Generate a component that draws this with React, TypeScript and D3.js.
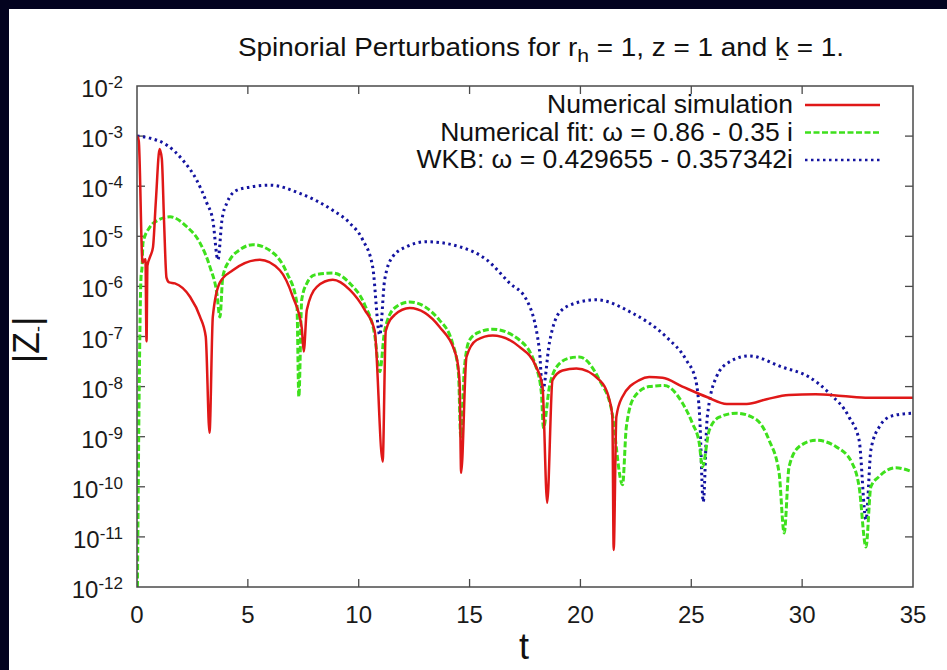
import { useRef, useEffect } from "react";
import * as d3 from "d3";

// Numerical simulation (red, solid)
const simT = [0, 0.08, 0.25, 0.38, 0.43, 0.47, 0.6, 0.72, 0.85, 1.02, 1.12, 1.22, 1.33, 1.45, 1.71, 2.39, 2.84, 3.1, 3.27, 3.42, 3.74, 4.32, 5.54, 6.44, 7.03, 7.43, 7.52, 7.66, 8.11, 8.83, 9.6, 10.27, 10.72, 11.08, 11.22, 11.62, 12.3, 13.65, 14.41, 14.55, 14.62, 14.86, 15.32, 16.04, 17.25, 18.0, 18.29, 18.5, 18.74, 19.19, 19.82, 20.86, 21.31, 21.44, 21.5, 21.62, 21.89, 22.66, 23.1, 23.7, 24.6, 25.7, 26.6, 27.5, 28.4, 29.4, 30.6, 31.8, 33.0, 35];
const simV = [1.0e-3, 8.0e-4, 3.0e-6, 3.5e-6, 8.0e-8, 2.6e-6, 4.0e-6, 6.0e-6, 5.0e-5, 5.5e-4, 3.5e-4, 2.0e-5, 1.5e-6, 1.2e-6, 1.15e-6, 6.2e-7, 2.5e-7, 1.0e-7, 1.2e-9, 2.5e-7, 1.2e-6, 2.1e-6, 3.4e-6, 2.1e-6, 6.2e-7, 1.5e-7, 5.0e-8, 3.4e-7, 9.8e-7, 1.35e-6, 8.5e-7, 3.4e-7, 1.3e-7, 3.2e-10, 1.3e-7, 2.7e-7, 3.7e-7, 1.55e-7, 3.9e-8, 1.2e-8, 1.9e-10, 3.9e-8, 8.5e-8, 1.05e-7, 6.2e-8, 2.5e-8, 1.0e-8, 4.8e-11, 1.35e-8, 2.1e-8, 2.3e-8, 1.35e-8, 5.4e-9, 2.5e-9, 5.5e-12, 2.5e-9, 6.2e-9, 1.35e-8, 1.55e-8, 1.5e-8, 1.0e-8, 6.2e-9, 4.5e-9, 4.5e-9, 5.6e-9, 6.8e-9, 7.0e-9, 6.5e-9, 6.0e-9, 6.0e-9];

// Numerical fit (green, dashed)
const fitT = [0.02, 0.1, 0.18, 0.23, 0.27, 0.59, 0.95, 1.49, 2.25, 2.84, 3.29, 3.6, 3.74, 3.87, 4.19, 4.64, 5.23, 6.13, 6.76, 7.21, 7.3, 7.43, 7.66, 8.02, 8.83, 9.6, 10.27, 10.72, 10.95, 11.17, 11.62, 12.3, 13.65, 14.23, 14.5, 14.6, 14.77, 15.0, 15.45, 16.04, 17.25, 18.0, 18.24, 18.33, 18.6, 18.92, 19.5, 19.95, 20.86, 21.4, 21.9, 22.07, 22.43, 23.1, 23.78, 24.6, 25.05, 25.36, 25.5, 25.81, 26.26, 27.03, 27.93, 28.51, 28.96, 29.19, 29.41, 29.86, 30.63, 31.53, 32.25, 32.57, 32.88, 33.1, 33.47, 34.23, 34.95];
const fitV = [1.0e-12, 1.0e-8, 1.5e-6, 2.5e-6, 7.4e-6, 1.55e-5, 2.1e-5, 2.45e-5, 1.55e-5, 7.4e-6, 2.45e-6, 7.4e-7, 2.45e-7, 1.55e-6, 3.4e-6, 5.4e-6, 6.8e-6, 4.7e-6, 1.85e-6, 4.7e-7, 6.3e-9, 5.4e-7, 1.15e-6, 1.7e-6, 1.85e-6, 1.15e-6, 4.3e-7, 1.07e-7, 2.0e-8, 1.3e-7, 3.7e-7, 4.9e-7, 2.1e-7, 7.4e-8, 1.85e-8, 1.0e-9, 2.45e-8, 8.5e-8, 1.23e-7, 1.4e-7, 8.5e-8, 2.45e-8, 7.4e-9, 1.5e-9, 9.8e-9, 2.45e-8, 3.7e-8, 3.9e-8, 1.35e-8, 3.5e-9, 1.1e-10, 1.55e-9, 6.2e-9, 1.0e-8, 1.05e-8, 4.7e-9, 1.85e-9, 7.4e-10, 2.5e-10, 1.35e-9, 2.45e-9, 2.95e-9, 2.2e-9, 8.5e-10, 1.9e-10, 1.2e-11, 2.5e-10, 6.3e-10, 8.5e-10, 6.3e-10, 3.0e-10, 1.0e-10, 6.3e-12, 1.0e-10, 1.6e-10, 2.4e-10, 2.0e-10];

// WKB (blue, dotted)
const wkbT = [0, 0.59, 1.35, 2.07, 2.7, 3.15, 3.42, 3.65, 3.83, 4.05, 4.5, 5.09, 5.99, 7.34, 8.83, 9.59, 10.18, 10.63, 10.95, 11.17, 11.53, 12.16, 13.06, 14.55, 15.77, 16.8, 17.57, 18.15, 18.29, 18.6, 19.05, 19.82, 20.7, 22.3, 23.87, 24.77, 25.2, 25.38, 25.54, 25.72, 26.13, 26.71, 27.61, 29.1, 30.32, 31.22, 32.12, 32.57, 32.88, 33.1, 33.47, 34.05, 34.95];
const wkbV = [1.0e-3, 9.1e-4, 6.6e-4, 3.3e-4, 1.3e-4, 4.6e-5, 2.1e-5, 3.4e-6, 2.1e-5, 4.6e-5, 8.3e-5, 9.6e-5, 1.05e-4, 7.2e-5, 3.3e-5, 1.85e-5, 8.5e-6, 2.45e-6, 1.07e-7, 1.35e-6, 3.9e-6, 6.2e-6, 7.8e-6, 6.2e-6, 3.4e-6, 1.17e-6, 5.4e-7, 5.4e-8, 8.0e-9, 7.4e-8, 3.0e-7, 4.7e-7, 5.4e-7, 3.0e-7, 9.8e-8, 3.4e-8, 1.35e-8, 2.45e-9, 5.0e-11, 2.45e-9, 1.55e-8, 3.1e-8, 4.1e-8, 2.45e-8, 1.55e-8, 7.4e-9, 2.45e-9, 8.5e-10, 2.2e-11, 5.4e-10, 1.55e-9, 2.6e-9, 2.95e-9];

const xTicks = [0, 5, 10, 15, 20, 25, 30, 35];
const yExponents = [-2, -3, -4, -5, -6, -7, -8, -9, -10, -11, -12];
const legendLabels = [
  "Numerical simulation",
  "Numerical fit: \u03c9 = 0.86 - 0.35 i",
  "WKB: \u03c9 = 0.429655 - 0.357342i",
];

const W = 947;
const H = 670;
const margin = { top: 86, right: 34, bottom: 83, left: 137 };
const font = "'Liberation Sans', Arial, Helvetica, sans-serif";

function App() {
  const ref = useRef<SVGSVGElement>(null);

  useEffect(() => {
    const svg = d3.select(ref.current);
    svg.selectAll("*").remove();

    const x = d3.scaleLinear().domain([0, 35]).range([margin.left, W - margin.right]);
    const y = d3.scaleLog().domain([1e-12, 1e-2]).range([H - margin.bottom, margin.top]);

    // background + dark frame strips
    svg.append("rect").attr("width", W).attr("height", H).attr("fill", "#03031f");
    svg.append("rect").attr("x", 9).attr("y", 9).attr("width", W - 9).attr("height", H - 9).attr("fill", "#ffffff");

    // title
    const title = svg
      .append("text")
      .attr("x", 541)
      .attr("y", 56)
      .attr("text-anchor", "middle")
      .attr("font-family", font)
      .attr("font-size", 25)
      .attr("textLength", 606)
      .attr("lengthAdjust", "spacingAndGlyphs")
      .attr("fill", "#111");
    title.append("tspan").text("Spinorial Perturbations for r");
    title.append("tspan").attr("dy", 6).attr("font-size", 19).text("h");
    title.append("tspan").attr("dy", -6).text(" = 1, z = 1 and \u1e35 = 1.");

    const x0 = x(0), x1 = x(35), y0 = y(1e-12), y1 = y(1e-2);
    const axis = svg.append("g").attr("stroke", "#4a4a4a").attr("stroke-width", 1.3);

    // ticks on all four sides
    xTicks.forEach((t) => {
      if (t === 0 || t === 35) return;
      axis.append("line").attr("x1", x(t)).attr("x2", x(t)).attr("y1", y0).attr("y2", y0 - 8);
      axis.append("line").attr("x1", x(t)).attr("x2", x(t)).attr("y1", y1).attr("y2", y1 + 8);
    });
    yExponents.forEach((e) => {
      if (e === -2 || e === -12) return;
      const v = Math.pow(10, e);
      axis.append("line").attr("x1", x0).attr("x2", x0 + 8).attr("y1", y(v)).attr("y2", y(v));
      axis.append("line").attr("x1", x1).attr("x2", x1 - 8).attr("y1", y(v)).attr("y2", y(v));
    });

    // tick labels
    xTicks.forEach((t) => {
      svg
        .append("text")
        .attr("x", x(t))
        .attr("y", y0 + 36)
        .attr("text-anchor", "middle")
        .attr("font-family", font)
        .attr("font-size", 24)
        .attr("fill", "#1a1a1a")
        .text(t);
    });
    yExponents.forEach((e) => {
      const lab = svg
        .append("text")
        .attr("x", 123)
        .attr("y", y(Math.pow(10, e)) + 11)
        .attr("text-anchor", "end")
        .attr("font-family", font)
        .attr("font-size", 24)
        .attr("fill", "#1a1a1a");
      lab.append("tspan").text("10");
      lab.append("tspan").attr("dy", -9).attr("font-size", 17).text(String(e));
    });

    // axis titles
    const yl = svg
      .append("text")
      .attr("transform", "translate(39,340) rotate(-90)")
      .attr("text-anchor", "middle")
      .attr("font-family", font)
      .attr("font-size", 36)
      .attr("fill", "#111");
    yl.append("tspan").text("|Z");
    yl.append("tspan").attr("dy", 5).attr("font-size", 18).text("-");
    yl.append("tspan").attr("dy", -5).text("|");

    svg
      .append("text")
      .attr("x", 524)
      .attr("y", 659)
      .attr("text-anchor", "middle")
      .attr("font-family", font)
      .attr("font-size", 36)
      .attr("fill", "#111")
      .text("t");

    // series
    const plot = svg.append("g");
    plot
      .append("clipPath")
      .attr("id", "clip")
      .append("rect")
      .attr("x", x0)
      .attr("y", y1)
      .attr("width", x1 - x0)
      .attr("height", y0 - y1);

    const series = [
      { t: wkbT, v: wkbV, color: "#1414a0", dash: "2.5,3.5", width: 3 },
      { t: fitT, v: fitV, color: "#3ee01c", dash: "6,2.5", width: 3 },
      { t: simT, v: simV, color: "#e01818", dash: null, width: 2.5 },
    ];
    const line = d3
      .line<[number, number]>()
      .x((d) => x(d[0]))
      .y((d) => y(d[1]))
      .curve(d3.curveMonotoneX);

    series.forEach((s) => {
      const pts = s.t.map((t, i) => [t, s.v[i]] as [number, number]);
      plot
        .append("path")
        .attr("d", line(pts))
        .attr("fill", "none")
        .attr("stroke", s.color)
        .attr("stroke-width", s.width)
        .attr("stroke-dasharray", s.dash)
        .attr("clip-path", "url(#clip)");
    });

    // legend
    const legendColors = ["#e01818", "#3ee01c", "#1414a0"];
    const legendDash = [null, "6,2.5", "2.5,3.5"];
    legendLabels.forEach((label, i) => {
      const ly = 105 + i * 27.5;
      svg
        .append("text")
        .attr("x", 793)
        .attr("y", ly + 8)
        .attr("text-anchor", "end")
        .attr("font-family", font)
        .attr("font-size", 26.5)
        .attr("fill", "#111")
        .text(label);
      svg
        .append("line")
        .attr("x1", 805)
        .attr("x2", 880)
        .attr("y1", ly)
        .attr("y2", ly)
        .attr("stroke", legendColors[i])
        .attr("stroke-width", 2.5)
        .attr("stroke-dasharray", legendDash[i]);
    });

    // frame
    svg
      .append("rect")
      .attr("x", x0)
      .attr("y", y1)
      .attr("width", x1 - x0)
      .attr("height", y0 - y1)
      .attr("fill", "none")
      .attr("stroke", "#4a4a4a")
      .attr("stroke-width", 1.5);
  }, []);

  return (
    <div style={{ position: "fixed", left: 0, top: 0 }}>
      <svg ref={ref} width={W} height={H} />
    </div>
  );
}

export default App;
